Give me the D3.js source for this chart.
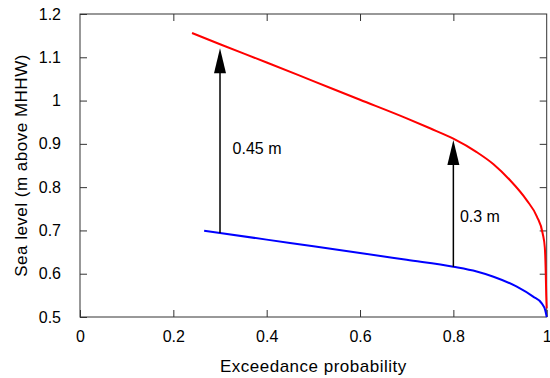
<!DOCTYPE html>
<html>
<head>
<meta charset="utf-8">
<script src="https://cdn.jsdelivr.net/npm/d3@7"></script>
<style>
  body { margin: 0; background: #fff; }
  text { font-family: "Liberation Sans", Arial, sans-serif; fill: #000; }
</style>
</head>
<body>
<svg id="chart" width="550" height="378"></svg>
<script>
// exceedance curves
const redX = [0.24, 0.30, 0.40, 0.50, 0.60, 0.70, 0.75, 0.80, 0.85, 0.886, 0.921, 0.957, 0.979, 0.9914, 0.996, 0.998, 0.999, 1.0];
const redY = [1.156, 1.130, 1.088, 1.045, 1.002, 0.959, 0.936, 0.912, 0.881, 0.853, 0.8165, 0.770, 0.732, 0.693, 0.66, 0.60, 0.55, 0.52];
const blueX = [0.266, 0.30, 0.45, 0.60, 0.70, 0.80, 0.85, 0.886, 0.936, 0.971, 0.989, 0.997, 1.0];
const blueY = [0.699, 0.694, 0.671, 0.648, 0.632, 0.616, 0.605, 0.593, 0.570, 0.547, 0.532, 0.515, 0.50];

const xTicks = [0, 0.2, 0.4, 0.6, 0.8, 1];
const yTicks = [0.5, 0.6, 0.7, 0.8, 0.9, 1, 1.1, 1.2];

// arrows: position, base, tip, label and label anchor
const arrowX = [0.3, 0.8];
const arrowFrom = [0.694, 0.616];
const arrowTo = [1.121, 0.909];
const arrowLabels = ["0.45 m", "0.3 m"];
const labelX = [0.327, 0.814];
const labelY = [0.876, 0.72];

const svg = d3.select("#chart");
const plotLeft = 80, plotRight = 546.7, plotTop = 14, plotBottom = 317;

const x = d3.scaleLinear().domain([0, 1]).range([plotLeft, plotRight]);
const y = d3.scaleLinear().domain([0.5, 1.2]).range([plotBottom, plotTop]);

const tickLen = 7;
const fmt = d => String(+d.toFixed(1));

// axes with inward ticks, mirrored on top and right
svg.append("g")
  .attr("transform", `translate(0,${plotBottom})`)
  .call(d3.axisBottom(x).tickValues(xTicks).tickSizeInner(-tickLen).tickSizeOuter(0).tickPadding(14).tickFormat(fmt))
  .call(g => g.select(".domain").remove());

svg.append("g")
  .attr("transform", `translate(0,${plotTop})`)
  .call(d3.axisTop(x).tickValues(xTicks.slice(1, -1)).tickSizeInner(-tickLen).tickSizeOuter(0).tickFormat(""))
  .call(g => g.select(".domain").remove());

svg.append("g")
  .attr("transform", `translate(${plotLeft},0)`)
  .call(d3.axisLeft(y).tickValues(yTicks).tickSizeInner(-tickLen).tickSizeOuter(0).tickPadding(19).tickFormat(fmt))
  .call(g => g.select(".domain").remove());

svg.append("g")
  .attr("transform", `translate(${plotRight},0)`)
  .call(d3.axisRight(y).tickValues(yTicks.slice(1, -1)).tickSizeInner(-tickLen).tickSizeOuter(0).tickFormat(""))
  .call(g => g.select(".domain").remove());

svg.selectAll(".tick line").attr("stroke", "#333");
svg.selectAll(".tick text")
  .style("font-family", "'Liberation Sans', Arial, sans-serif")
  .style("font-size", "16px")
  .attr("fill", "#000");

svg.append("rect")
  .attr("x", plotLeft).attr("y", plotTop)
  .attr("width", plotRight - plotLeft).attr("height", plotBottom - plotTop)
  .attr("fill", "none").attr("stroke", "#333").attr("stroke-width", 1);

// curves
const line = d3.line().x(d => x(d[0])).y(d => y(d[1])).curve(d3.curveMonotoneX);

svg.append("path")
  .datum(d3.zip(redX, redY))
  .attr("d", line)
  .attr("fill", "none").attr("stroke", "#ff0000").attr("stroke-width", 2);

svg.append("path")
  .datum(d3.zip(blueX, blueY))
  .attr("d", line)
  .attr("fill", "none").attr("stroke", "#0000ff").attr("stroke-width", 2);

// arrows
const headLen = 25, headHalf = 6;
arrowX.forEach((ax, i) => {
  const px = x(ax), y0 = y(arrowFrom[i]), y1 = y(arrowTo[i]);
  svg.append("line")
    .attr("x1", px).attr("x2", px)
    .attr("y1", y0).attr("y2", y1 + headLen - 2)
    .attr("stroke", "#000").attr("stroke-width", 1.5);
  svg.append("path")
    .attr("d", `M${px},${y1} L${px - headHalf},${y1 + headLen} L${px + headHalf},${y1 + headLen} Z`)
    .attr("fill", "#000");
  svg.append("text")
    .attr("x", x(labelX[i])).attr("y", y(labelY[i]))
    .style("font-size", "16px")
    .text(arrowLabels[i]);
});

// axis titles
svg.append("text")
  .attr("x", (plotLeft + plotRight) / 2).attr("y", 372)
  .attr("text-anchor", "middle")
  .style("font-size", "17px")
  .style("letter-spacing", "0.5px")
  .text("Exceedance probability");

svg.append("text")
  .attr("transform", `translate(27,${(plotTop + plotBottom) / 2}) rotate(-90)`)
  .attr("text-anchor", "middle")
  .style("font-size", "17px")
  .style("letter-spacing", "0.5px")
  .text("Sea level (m above MHHW)");
</script>
</body>
</html>
